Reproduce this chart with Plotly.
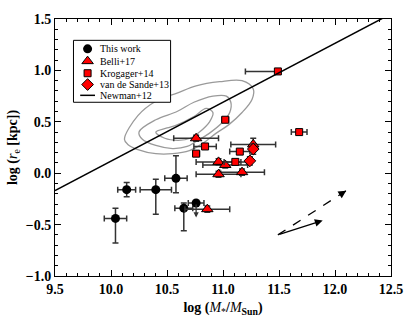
import plotly.graph_objects as go

# This work (black circles)
tw_x = [10.04, 10.14, 10.40, 10.58, 10.65, 10.76]
tw_y = [-0.44, -0.16, -0.16, -0.05, -0.34, -0.29]
tw_xerr = [0.10, 0.08, 0.14, 0.10, 0.08, 0.07]
tw_yerr_up = [0.10, 0.07, 0.10, 0.22, 0.05, 0.0]
tw_yerr_dn = [0.24, 0.07, 0.24, 0.14, 0.22, 0.0]
tw_limit_to = -0.43  # upper limit arrow on last point

# Belli+17 (triangles)
be_x = [10.76, 10.86, 10.96, 11.02, 10.96, 11.17, 11.27]
be_y = [0.34, -0.35, 0.11, 0.08, -0.01, 0.01, 0.28]
be_xerr = [0.20, 0.20, 0.20, 0.20, 0.20, 0.20, 0.20]
be_yerr = [0.03, 0.03, 0.03, 0.03, 0.03, 0.03, 0.06]

# Krogager+14 (squares)
kr_x = [11.49, 11.02, 11.68, 10.84, 10.76, 11.15, 11.11]
kr_y = [0.99, 0.52, 0.40, 0.26, 0.19, 0.21, 0.11]
kr_xerr_lo = [0.29, 0.03, 0.07, 0.10, 0.03, 0.09, 0.10]
kr_xerr_hi = [0.0, 0.03, 0.07, 0.10, 0.03, 0.09, 0.10]

# van de Sande+13 (diamonds)
vs_x = [11.24, 11.27]
vs_y = [0.12, 0.235]
vs_yerr = [0.04, 0.05]

# Newman+12 relation
nm_x = [9.5, 12.5]
nm_y = [-0.17, 1.55]

# gray density contours
c_outer_x = [10.12, 10.24, 10.40, 10.59, 10.76, 10.97, 11.17, 11.27, 11.26, 11.17, 11.05,
             10.94, 10.82, 10.70, 10.55, 10.40, 10.24, 10.15, 10.12]
c_outer_y = [0.33, 0.56, 0.70, 0.78, 0.85, 0.89, 0.90, 0.82, 0.72, 0.59, 0.47,
             0.39, 0.29, 0.22, 0.19, 0.19, 0.23, 0.28, 0.33]
c_mid_x = [10.25, 10.40, 10.59, 10.74, 10.91, 11.03, 11.07, 11.06, 11.00, 10.88,
           10.76, 10.68, 10.55, 10.40, 10.28, 10.25]
c_mid_y = [0.40, 0.52, 0.60, 0.69, 0.75, 0.75, 0.69, 0.59, 0.50, 0.39,
           0.31, 0.26, 0.24, 0.27, 0.33, 0.40]
c_in_x = [10.40, 10.50, 10.59, 10.74, 10.85, 10.91, 10.88, 10.79, 10.71, 10.60, 10.48, 10.40]
c_in_y = [0.40, 0.44, 0.47, 0.55, 0.63, 0.59, 0.50, 0.40, 0.34, 0.32, 0.34, 0.40]

# evolution arrows
arr_start = (11.49, -0.60)
arr_solid_end = (11.89, -0.46)
arr_dash_end = (12.10, -0.17)

legend_names = ["This work", "Belli+17", "Krogager+14", "van de Sande+13", "Newman+12"]

RED = "#ff0000"
EBAR = "#333333"
SERIF = "Liberation Serif"

fig = go.Figure()

for cx, cy in [(c_outer_x, c_outer_y), (c_mid_x, c_mid_y), (c_in_x, c_in_y)]:
    fig.add_trace(go.Scatter(x=cx, y=cy, mode="lines", line=dict(color="#9a9a9a", width=1.3, shape="spline"),
                             showlegend=False, hoverinfo="skip"))

fig.add_trace(go.Scatter(
    x=tw_x, y=tw_y, mode="markers", name=legend_names[0],
    marker=dict(symbol="circle", size=9, color="black"),
    error_x=dict(type="data", array=tw_xerr, color=EBAR, thickness=1.5, width=3),
    error_y=dict(type="data", array=tw_yerr_up, arrayminus=tw_yerr_dn, color=EBAR, thickness=1.5, width=3),
))
fig.add_trace(go.Scatter(
    x=be_x, y=be_y, mode="markers", name=legend_names[1],
    marker=dict(symbol="triangle-up", size=10, color=RED, line=dict(color="black", width=1)),
    error_x=dict(type="data", array=be_xerr, color=EBAR, thickness=1.5, width=3),
    error_y=dict(type="data", array=be_yerr, color=EBAR, thickness=1.5, width=3),
))
fig.add_trace(go.Scatter(
    x=kr_x, y=kr_y, mode="markers", name=legend_names[2],
    marker=dict(symbol="square", size=7, color=RED, line=dict(color="black", width=1)),
    error_x=dict(type="data", array=kr_xerr_hi, arrayminus=kr_xerr_lo, color=EBAR, thickness=1.5, width=3),
))
fig.add_trace(go.Scatter(
    x=vs_x, y=vs_y, mode="markers", name=legend_names[3],
    marker=dict(symbol="diamond", size=9, color=RED, line=dict(color="black", width=1)),
    error_y=dict(type="data", array=vs_yerr, color=EBAR, thickness=1.5, width=3),
))
fig.add_trace(go.Scatter(
    x=nm_x, y=nm_y, mode="lines", name=legend_names[4],
    line=dict(color="black", width=1.5),
))

# dashed arrow shaft
fig.add_trace(go.Scatter(
    x=[arr_start[0], arr_dash_end[0]], y=[arr_start[1], arr_dash_end[1]], mode="lines",
    line=dict(color="black", width=1.3, dash="dash"), showlegend=False, hoverinfo="skip",
))

# hand-built compact legend on an overlay axis spanning the plot area (0..1)
lg_box = (0.055, 0.344, 0.676, 0.917)
lg_sym_x = 0.097
lg_txt_x = 0.129
lg_rows = [0.884, 0.836, 0.789, 0.745, 0.703]
bx0, bx1, by0, by1 = lg_box
fig.add_trace(go.Scatter(x=[bx0, bx1, bx1, bx0, bx0], y=[by0, by0, by1, by1, by0], mode="lines",
                         fill="toself", fillcolor="white", line=dict(color="black", width=1),
                         xaxis="x2", yaxis="y2", showlegend=False, hoverinfo="skip"))
sym_styles = [
    dict(symbol="circle", size=9, color="black"),
    dict(symbol="triangle-up", size=10, color=RED, line=dict(color="black", width=1)),
    dict(symbol="square", size=7, color=RED, line=dict(color="black", width=1)),
    dict(symbol="diamond", size=9, color=RED, line=dict(color="black", width=1)),
]
for ry, st in zip(lg_rows[:4], sym_styles):
    fig.add_trace(go.Scatter(x=[lg_sym_x], y=[ry], mode="markers", marker=st,
                             xaxis="x2", yaxis="y2", showlegend=False, hoverinfo="skip"))
fig.add_trace(go.Scatter(x=[0.075, 0.119], y=[lg_rows[4], lg_rows[4]], mode="lines",
                         line=dict(color="black", width=1.5),
                         xaxis="x2", yaxis="y2", showlegend=False, hoverinfo="skip"))

annots = [
    dict(x=arr_solid_end[0], y=arr_solid_end[1], ax=arr_start[0], ay=arr_start[1],
         xref="x", yref="y", axref="x", ayref="y", showarrow=True, arrowhead=2,
         arrowsize=1.2, arrowwidth=1.3, arrowcolor="black", text=""),
    dict(x=arr_dash_end[0], y=arr_dash_end[1],
         ax=arr_dash_end[0] - 0.03, ay=arr_dash_end[1] - 0.021,
         xref="x", yref="y", axref="x", ayref="y", showarrow=True, arrowhead=2,
         arrowsize=1.2, arrowwidth=1.3, arrowcolor="black", text=""),
    dict(x=tw_x[-1], y=tw_limit_to, ax=tw_x[-1], ay=tw_y[-1],
         xref="x", yref="y", axref="x", ayref="y", showarrow=True, arrowhead=2,
         arrowsize=0.8, arrowwidth=1.3, arrowcolor=EBAR, text=""),
]
for ry, name in zip(lg_rows, legend_names):
    annots.append(dict(x=lg_txt_x, y=ry, xref="paper", yref="paper", xanchor="left", yanchor="middle",
                       text=name, showarrow=False, font=dict(family=SERIF, size=10, color="black")))

axis_common = dict(
    showline=True, linecolor="black", linewidth=1, mirror="allticks",
    ticks="inside", ticklen=6, tickwidth=1, tickcolor="black",
    minor=dict(ticks="inside", ticklen=3, dtick=0.1, tickcolor="black"),
    showgrid=False, zeroline=False, tickformat=".1f",
    tickfont=dict(family=SERIF, size=14, color="black", weight="bold"),
)

fig.update_xaxes(range=[9.5, 12.5], dtick=0.5, tick0=9.5,
                 title=dict(text="<b>log (</b><i>M</i><sub>*</sub><b>/</b><i>M</i><sub><b>Sun</b></sub><b>)</b>",
                            font=dict(family=SERIF, size=14, color="black"), standoff=6),
                 **axis_common)
fig.update_yaxes(range=[-1.0, 1.5], dtick=0.5, tick0=-1.0,
                 title=dict(text="<b>log (</b><i>r</i><sub>e</sub><b> [kpc])</b>",
                            font=dict(family=SERIF, size=14, color="black"), standoff=4),
                 **axis_common)

fig.update_layout(
    width=415, height=332,
    margin=dict(l=55, r=16, t=16, b=56),
    paper_bgcolor="white", plot_bgcolor="white",
    font=dict(family=SERIF, color="black"),
    annotations=annots,
    showlegend=False,
    xaxis2=dict(overlaying="x", range=[0, 1], visible=False, fixedrange=True),
    yaxis2=dict(overlaying="y", range=[0, 1], visible=False, fixedrange=True),
)

fig.write_html("out.html", config={"displayModeBar": False},
               post_script="document.body.style.margin='0';")
